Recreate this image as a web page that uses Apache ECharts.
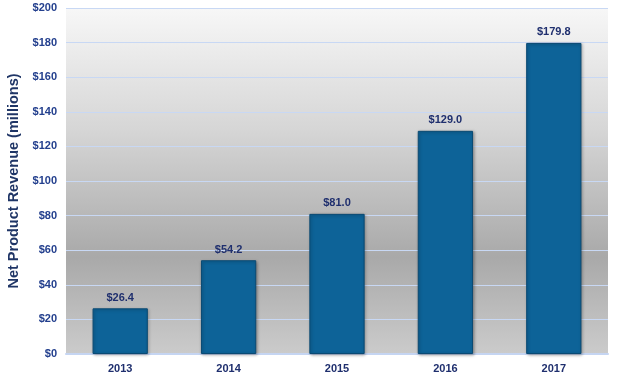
<!DOCTYPE html>
<html><head><meta charset="utf-8">
<script src="https://cdn.jsdelivr.net/npm/echarts@6/dist/echarts.min.js"></script>
<style>html,body{margin:0;padding:0;background:#fff}#c{width:618px;height:383px}</style>
</head><body><div id="c"></div>
<script>
const categories = ['2013','2014','2015','2016','2017'];
const revenue = [26.4, 54.2, 81.0, 129.0, 179.8];
const yTicks = [0, 20, 40, 60, 80, 100, 120, 140, 160, 180, 200];

const chart = echarts.init(document.getElementById('c'));
chart.setOption({
  animation: false,
  grid: {
    left: 66, right: 10, top: 8, bottom: 29,
    outerBoundsMode: 'none', containLabel: false,
    show: true, borderWidth: 0,
    backgroundColor: new echarts.graphic.LinearGradient(0, 0, 0, 1, [
      {offset: 0, color: '#f7f7f7'},
      {offset: 0.35, color: '#d6d6d6'},
      {offset: 0.72, color: '#a9a9a9'},
      {offset: 1, color: '#cbcbcb'}
    ])
  },
  xAxis: {
    type: 'category', data: categories,
    axisLine: {lineStyle: {color: '#c5d5f2', width: 2}},
    axisTick: {show: false},
    axisLabel: {color: '#1f2f6e', fontWeight: 'bold', fontSize: 11, fontFamily: 'Liberation Sans, Arial', margin: 9}
  },
  yAxis: {
    type: 'value', min: yTicks[0], max: yTicks[yTicks.length-1], interval: 20,
    name: 'Net Product Revenue (millions)', nameLocation: 'middle', nameGap: 44,
    nameTextStyle: {color: '#1f3566', fontWeight: 'bold', fontSize: 14.5, fontFamily: 'Liberation Sans, Arial'},
    axisLine: {show: false}, axisTick: {show: false},
    splitLine: {lineStyle: {color: '#c8d8f4', width: 1}},
    axisLabel: {color: '#24408e', fontWeight: 'bold', fontSize: 11, fontFamily: 'Liberation Sans, Arial', margin: 9,
      formatter: v => '$' + v}
  },
  series: [{
    type: 'bar', data: revenue, barWidth: '51%',
    itemStyle: {
      color: '#0d6398',
      borderColor: '#0a4a73', borderWidth: 1,
      shadowColor: 'rgba(0,0,0,0.3)', shadowBlur: 3, shadowOffsetX: 1, shadowOffsetY: 1
    },
    label: {show: true, position: 'top', distance: 5, color: '#1f2f6e', fontWeight: 'bold', fontSize: 11,
      fontFamily: 'Liberation Sans, Arial', formatter: p => '$' + p.value.toFixed(1)}
  }]
});
</script></body></html>
